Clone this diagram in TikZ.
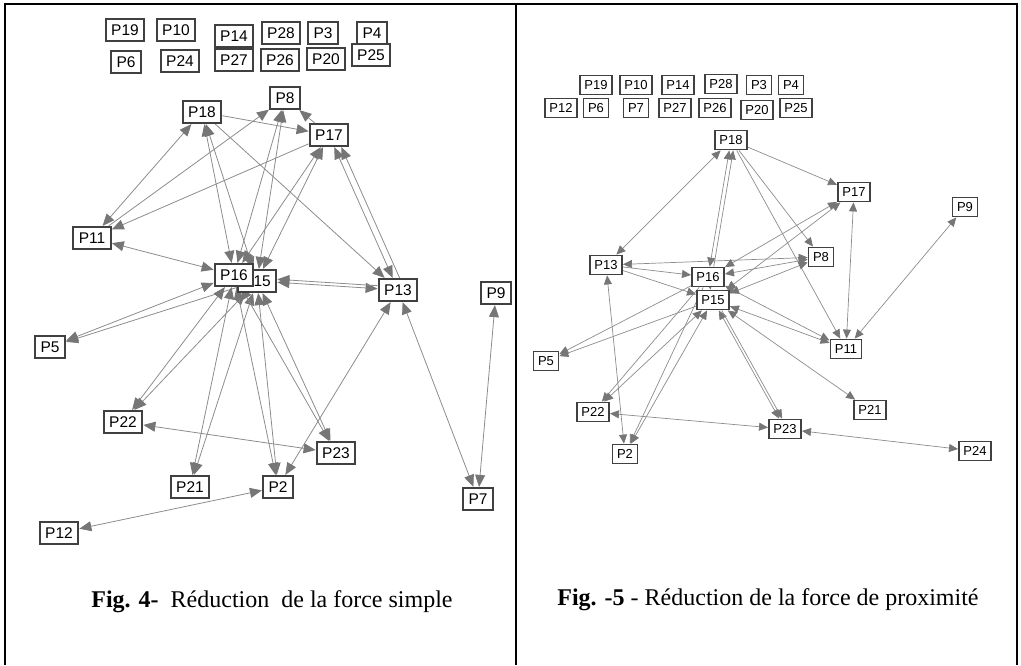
\documentclass[tikz,border=0pt]{standalone}
\usepackage{fontspec}
\setmainfont{Liberation Serif}
\setsansfont{Liberation Sans}
\usetikzlibrary{arrows.meta,backgrounds}
\definecolor{boxgray}{HTML}{404040}
\definecolor{linegray}{HTML}{8C8C8C}
\definecolor{tipgray}{HTML}{767676}

\tikzset{
 lbox/.style = {shape=rectangle, draw=boxgray, line width=2.2pt, fill=white,
 font=\sffamily\fontsize{15.5}{15.5}\selectfont, inner xsep=5.5pt, inner ysep=0pt, minimum height=22pt},
 rbox/.style = {shape=rectangle, draw=boxgray, line width=1.8pt, fill=white,
 font=\sffamily\fontsize{13}{13}\selectfont, inner xsep=4.5pt, inner ysep=0pt, minimum height=19pt},
 llink/.style = {draw=linegray, line width=0.8pt, -{Triangle[length=12pt,width=10pt,color=tipgray]}},
 lboth/.style = {llink, {Triangle[length=12pt,width=10pt,color=tipgray]}-{Triangle[length=12pt,width=10pt,color=tipgray]}},
 rlink/.style = {draw=linegray, line width=0.7pt, -{Triangle[length=9pt,width=8pt,color=tipgray]}},
 rboth/.style = {rlink, {Triangle[length=9pt,width=8pt,color=tipgray]}-{Triangle[length=9pt,width=8pt,color=tipgray]}},
 caption/.style = {font=\fontsize{24}{24}\selectfont}
}

\begin{document}
\begin{tikzpicture}[x=1pt, y=-1pt]
 \useasboundingbox (0,0) rectangle (1021,665);
 % table frame
 \draw[line width=2pt] (5,665) -- (5,4) -- (1017,4) -- (1017,665);
 \draw[line width=2pt] (516,4) -- (516,665);

 % Fig. 4 : force simple
 \node[lbox] (L19) at (125,30) {P19};
 \node[lbox] (L10) at (176,30) {P10};
 \node[lbox] (L14) at (234,36) {P14};
 \node[lbox] (L28) at (281,33) {P28};
 \node[lbox] (L3) at (323,33) {P3};
 \node[lbox] (L4) at (372,33) {P4};
 \node[lbox] (L6) at (126,62) {P6};
 \node[lbox] (L24) at (180,61) {P24};
 \node[lbox] (L27) at (234,60) {P27};
 \node[lbox] (L26) at (280,60) {P26};
 \node[lbox] (L20) at (326,59) {P20};
 \node[lbox] (L25) at (371,55) {P25};
 \node[lbox] (L8) at (285,98) {P8};
 \node[lbox] (L18) at (202,112) {P18};
 \node[lbox] (L17) at (329,135) {P17};
 \node[lbox] (L11) at (92,238) {P11};
 \node[lbox] (L15) at (257,281) {P15};
 \node[lbox] (L16) at (234,275) {P16};
 \node[lbox] (L13) at (398,290) {P13};
 \node[lbox] (L9) at (496,293) {P9};
 \node[lbox] (L5) at (50,347) {P5};
 \node[lbox] (L22) at (123,422) {P22};
 \node[lbox] (L23) at (336,453) {P23};
 \node[lbox] (L21) at (190,487) {P21};
 \node[lbox] (L2) at (278,487) {P2};
 \node[lbox] (L7) at (478,499) {P7};
 \node[lbox] (L12) at (59,533) {P12};

 \begin{scope}[on background layer]
 \draw[lboth] (L18) -- (L11);
 \draw[llink] (L11) -- (L8);
 \draw[llink] (L17) -- (L11);
 \draw[llink] (L18) -- (L17);
 \draw[llink] (L17) -- (L8);
 \draw[lboth] (L16) -- (L18);
 \draw[lboth] (L15) -- (L18);
 \draw[llink] (L18) -- (L13);
 \draw[lboth] (L16) -- (L8);
 \draw[lboth] (L15) -- (L8);
 \draw[lboth] (L16) -- (L17);
 \draw[lboth] (L15) -- (L17);
 \draw[lboth] (L17) -- (L13);
 \draw[llink, transform canvas={xshift=7pt}] (L13) -- (L17);
 \draw[lboth] (L15) -- (L13);
 \draw[llink, transform canvas={yshift=3pt}] (L13) -- (L15);
 \draw[lboth] (L11) -- (L16);
 \draw[lboth] (L16) -- (L5);
 \draw[llink] (L15) -- (L5);
 \draw[lboth] (L16) -- (L22);
 \draw[lboth] (L15) -- (L22);
 \draw[lboth] (L16) -- (L21);
 \draw[lboth] (L15) -- (L21);
 \draw[lboth] (L16) -- (L2);
 \draw[lboth] (L15) -- (L2);
 \draw[lboth] (L16) -- (L23);
 \draw[lboth] (L15) -- (L23);
 \draw[lboth] (L13) -- (L2);
 \draw[lboth] (L22) -- (L23);
 \draw[lboth] (L12) -- (L2);
 \draw[lboth] (L13) -- (L7);
 \draw[lboth] (L9) -- (L7);
 \end{scope}

 \node[caption] (cap4) at (272,602) {\textbf{Fig. 4-}\ \ Réduction\ \ de la force simple};

 % Fig. 5 : force de proximite
 \node[rbox] (R19) at (596,85) {P19};
 \node[rbox] (R10) at (636,85) {P10};
 \node[rbox] (R14) at (678,85) {P14};
 \node[rbox] (R28) at (721,84) {P28};
 \node[rbox] (R3) at (759,85) {P3};
 \node[rbox] (R4) at (791,85) {P4};
 \node[rbox] (R12) at (561,108) {P12};
 \node[rbox] (R6) at (596,108) {P6};
 \node[rbox] (R7) at (636,108) {P7};
 \node[rbox] (R27) at (675,108) {P27};
 \node[rbox] (R26) at (715,108) {P26};
 \node[rbox] (R20) at (757,110) {P20};
 \node[rbox] (R25) at (796,108) {P25};
 \node[rbox] (R18) at (731,140) {P18};
 \node[rbox] (R17) at (854,192) {P17};
 \node[rbox] (R9) at (965,207) {P9};
 \node[rbox] (R13) at (606,265) {P13};
 \node[rbox] (R8) at (821,257) {P8};
 \node[rbox] (R16) at (708,277) {P16};
 \node[rbox] (R15) at (713,300) {P15};
 \node[rbox] (R11) at (846,349) {P11};
 \node[rbox] (R5) at (546,361) {P5};
 \node[rbox] (R22) at (593,412) {P22};
 \node[rbox] (R21) at (870,410) {P21};
 \node[rbox] (R23) at (785,429) {P23};
 \node[rbox] (R24) at (975,451) {P24};
 \node[rbox] (R2) at (625,454) {P2};

 \begin{scope}[on background layer]
 \draw[rboth] (R18) -- (R13);
 \draw[rboth] (R18) -- (R16);
 \draw[rlink, transform canvas={xshift=4pt}] (R16) -- (R18);
 \draw[rlink] (R18) -- (R17);
 \draw[rlink] (R18) -- (R8);
 \draw[rlink] (R18) -- (R11);
 \draw[rboth] (R17) -- (R11);
 \draw[rboth] (R9) -- (R11);
 \draw[rboth] (R13) -- (R8);
 \draw[rlink] (R13) -- (R16);
 \draw[rlink] (R13) -- (R15);
 \draw[rboth] (R16) -- (R11);
 \draw[rboth] (R15) -- (R11);
 \draw[rboth] (R16) -- (R8);
 \draw[rboth] (R15) -- (R8);
 \draw[rboth] (R17) -- (R16);
 \draw[rboth] (R17) -- (R15);
 \draw[rlink] (R16) -- (R5);
 \draw[rlink] (R15) -- (R5);
 \draw[rboth] (R13) -- (R2);
 \draw[rlink] (R16) -- (R22);
 \draw[rboth] (R15) -- (R22);
 \draw[rlink] (R16) -- (R2);
 \draw[rboth] (R15) -- (R2);
 \draw[rboth] (R15) -- (R23);
 \draw[rlink, transform canvas={xshift=3pt}] (R15) -- (R23);
 \draw[rboth] (R15) -- (R21);
 \draw[rboth] (R22) -- (R23);
 \draw[rboth] (R24) -- (R23);
 \draw[rboth] (R16) -- (R15);
 \end{scope}

 \node[caption] (cap5) at (768,600) {\textbf{Fig. -5} - Réduction de la force de proximité};
\end{tikzpicture}
\end{document}
